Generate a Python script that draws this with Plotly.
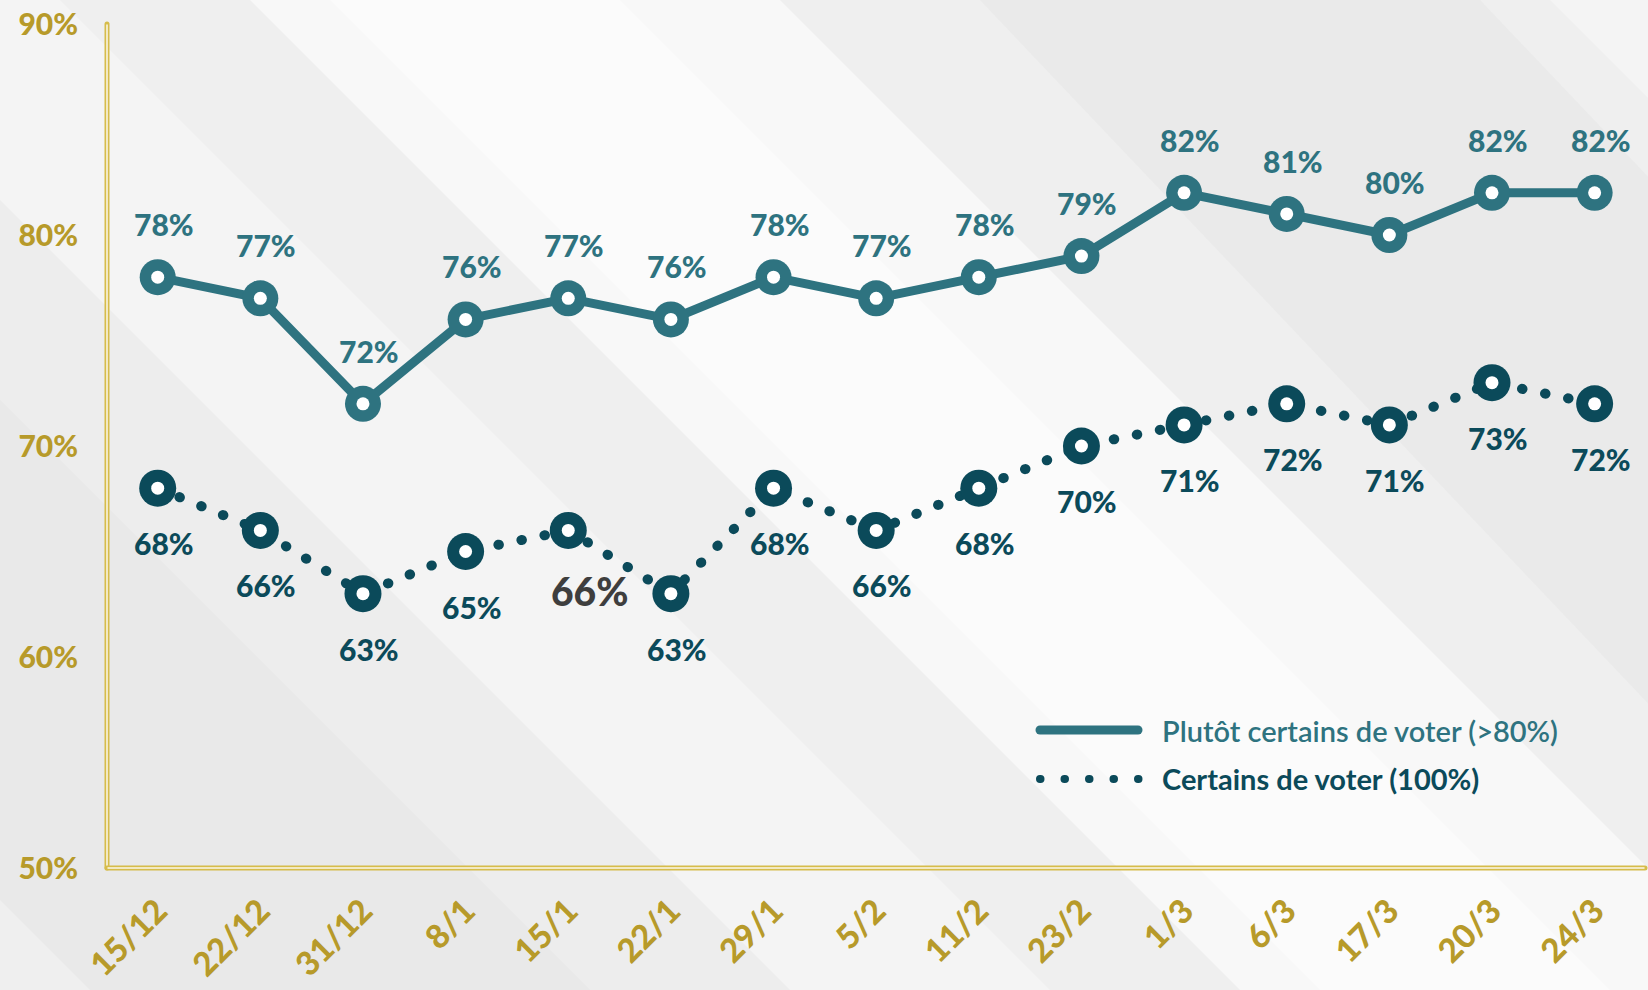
import plotly.graph_objects as go

# ---------------- data ----------------
dates = ["15/12", "22/12", "31/12", "8/1", "15/1", "22/1", "29/1", "5/2",
         "11/2", "23/2", "1/3", "6/3", "17/3", "20/3", "24/3"]
plutot_certains = [78, 77, 72, 76, 77, 76, 78, 77, 78, 79, 82, 81, 80, 82, 82]
certains = [68, 66, 63, 65, 66, 63, 68, 66, 68, 70, 71, 72, 71, 73, 72]
y_tick_vals = [50, 60, 70, 80, 90]
y_tick_text = ["50%", "60%", "70%", "80%", "90%"]
name_plutot = "Plutôt certains de voter (>80%)"
name_certains = "Certains de voter (100%)"
highlight_idx = 4  # label drawn in grey in the original

# ---------------- style ----------------
TEAL = "#2E7380"
DARK = "#0B4A5A"
GOLD_TXT = "#B79A2A"
GOLD_LINE = "#D6BC4A"
FONT = "Lato"
W, H = 1648, 990
ML, MR, MT, MB = 107, 0, 24, 122
PW, PH = W - ML - MR, H - MT - MB


def px(x):
    return (x - ML) / PW


def py(y):
    return (H - MB - y) / PH


fig = go.Figure()

# dotted series
fig.add_trace(go.Scatter(
    x=dates, y=certains, mode="lines+markers", name=name_certains,
    line=dict(color=DARK, width=10, dash="0.5px,23px"),
    marker=dict(size=37, color=DARK), hoverinfo="skip", showlegend=False))
fig.add_trace(go.Scatter(
    x=dates, y=certains, mode="markers", marker=dict(size=13, color="white"),
    hoverinfo="skip", showlegend=False))
# solid series
fig.add_trace(go.Scatter(
    x=dates, y=plutot_certains, mode="lines+markers", name=name_plutot,
    line=dict(color=TEAL, width=9),
    marker=dict(size=36, color=TEAL), hoverinfo="skip", showlegend=False))
fig.add_trace(go.Scatter(
    x=dates, y=plutot_certains, mode="markers", marker=dict(size=13, color="white"),
    hoverinfo="skip", showlegend=False))

annotations = []
for d, v in zip(dates, plutot_certains):
    annotations.append(dict(x=d, y=v, text=f"{v}%", showarrow=False, yshift=53, xshift=6,
                            font=dict(family=FONT, size=30, color=TEAL, weight=900)))
for i, (d, v) in enumerate(zip(dates, certains)):
    if i == highlight_idx:
        annotations.append(dict(x=d, y=v, text=f"{v}%", showarrow=False, yshift=-61, xshift=22,
                                font=dict(family=FONT, size=39, color="#3E3E3E", weight=900)))
    else:
        annotations.append(dict(x=d, y=v, text=f"{v}%", showarrow=False, yshift=-55, xshift=6,
                                font=dict(family=FONT, size=30, color=DARK, weight=900)))

# legend (drawn manually to get long samples)
annotations.append(dict(xref="paper", yref="paper", x=px(1160), y=py(730), xanchor="left",
                        yanchor="middle", text=name_plutot, showarrow=False,
                        font=dict(family=FONT, size=29, color=TEAL, weight=600)))
annotations.append(dict(xref="paper", yref="paper", x=px(1160), y=py(778), xanchor="left",
                        yanchor="middle", text=name_certains, showarrow=False,
                        font=dict(family=FONT, size=29, color=DARK, weight="bold")))

shapes = []


def band(x0, x1, dx, color, op, ytop=0, ybot=H):
    d = ybot - ytop
    return dict(type="path", xref="paper", yref="paper", layer="below", line=dict(width=0),
                fillcolor=color, opacity=op,
                path=f"M{px(x0)},{py(ytop)} L{px(x1)},{py(ytop)} L{px(x1 + d * dx)},{py(ybot)} L{px(x0 + d * dx)},{py(ybot)} Z")


# soft background decoration
shapes.append(band(250, 780, 1.0, "white", 0.55))
shapes.append(band(330, 620, 1.0, "white", 0.4))
shapes.append(band(-400, 60, 1.0, "white", 0.35))
shapes.append(band(980, 1480, 0.95, "#dcdcdc", 0.25))
shapes.append(band(-900, -200, 1.0, "#d8d8d8", 0.25))
shapes.append(band(1550, 1700, 1.0, "white", 0.35))

# axes lines (double gold lines)
shapes.append(dict(type="line", xref="paper", yref="paper", x0=0, x1=0, y0=0, y1=py(24),
                   line=dict(color=GOLD_LINE, width=5), layer="below"))
shapes.append(dict(type="line", xref="paper", yref="paper", x0=0, x1=0, y0=0, y1=py(25),
                   line=dict(color="#FBF8EC", width=1.5), layer="below"))
shapes.append(dict(type="line", xref="paper", yref="paper", x0=0, x1=px(1645), y0=0, y1=0,
                   line=dict(color=GOLD_LINE, width=5), layer="below"))
shapes.append(dict(type="line", xref="paper", yref="paper", x0=px(108), x1=px(1644), y0=0, y1=0,
                   line=dict(color="#FBF8EC", width=1.5), layer="below"))
# legend samples
shapes.append(dict(type="line", xref="paper", yref="paper", x0=px(1040), x1=px(1138),
                   y0=py(730), y1=py(730), line=dict(color=TEAL, width=9)))
shapes.append(dict(type="line", xref="paper", yref="paper", x0=px(1040), x1=px(1140),
                   y0=py(779), y1=py(779), line=dict(color=DARK, width=8, dash="0.5px,24px")))

fig.update_layout(
    width=W, height=H,
    margin=dict(l=ML, r=MR, t=MT, b=MB),
    paper_bgcolor="#EFEFEF", plot_bgcolor="rgba(0,0,0,0)",
    showlegend=False,
    annotations=annotations, shapes=shapes,
    xaxis=dict(type="category", range=[-0.494, 14.52], showgrid=False, zeroline=False,
               showline=False, ticks="", tickangle=-45, ticklabelstandoff=16,
               tickfont=dict(family=FONT, size=33, color=GOLD_TXT, weight=900)),
    yaxis=dict(range=[50, 90], showgrid=False, zeroline=False, showline=False, ticks="",
               tickvals=y_tick_vals, ticktext=y_tick_text, ticklabelstandoff=28,
               tickfont=dict(family=FONT, size=30, color=GOLD_TXT, weight=900)),
)

js = """
document.body.style.margin='0';
document.body.style.padding='0';
var gd = document.getElementById('{plot_id}');
gd.querySelectorAll('path.js-line').forEach(function(p){p.style.strokeLinecap='round'; p.style.strokeLinejoin='round';});
gd.querySelectorAll('.shapelayer path').forEach(function(p){p.style.strokeLinecap='round';});
"""
fig.write_html("out.html", post_script=js, config={"displayModeBar": False})
